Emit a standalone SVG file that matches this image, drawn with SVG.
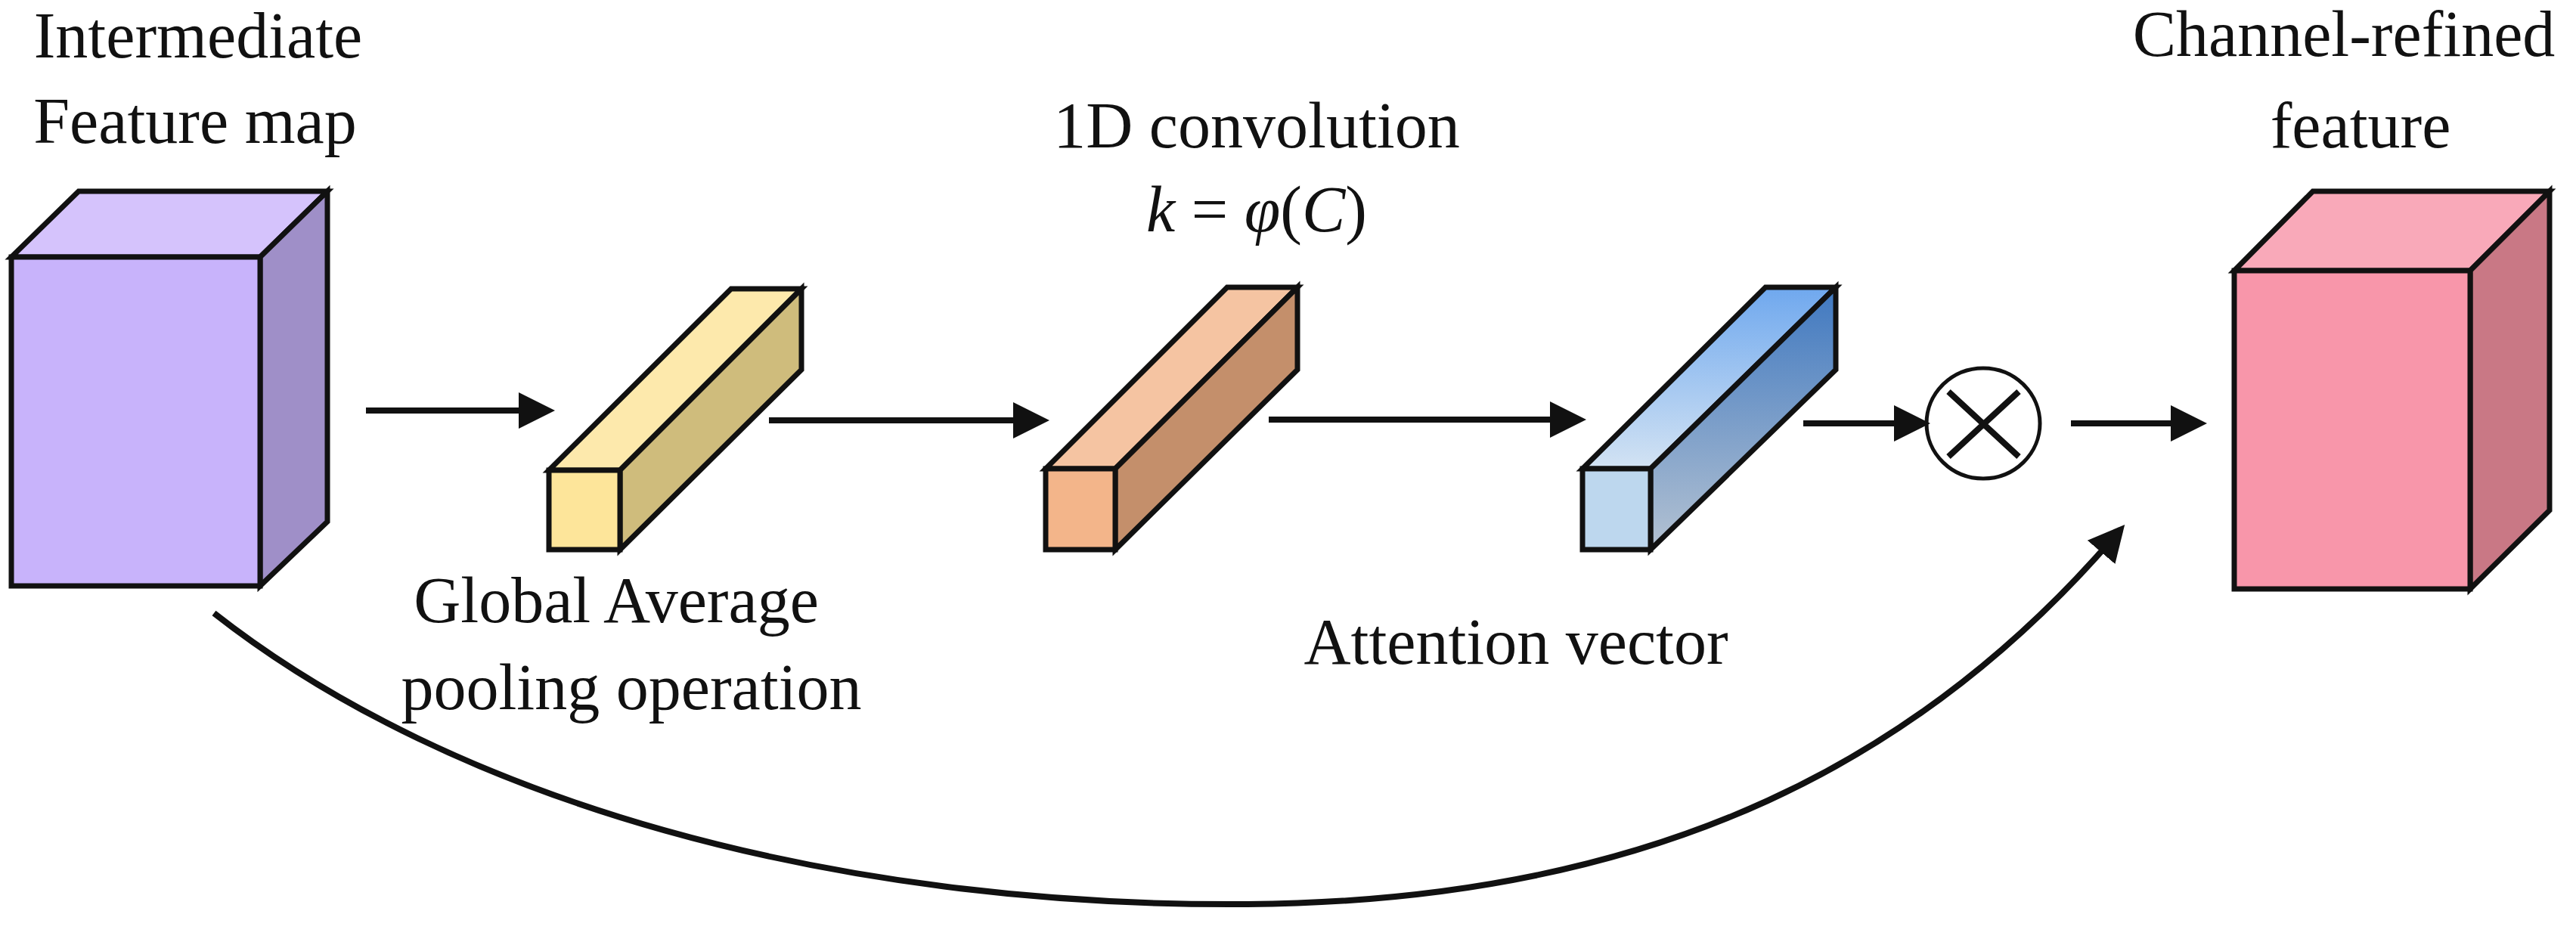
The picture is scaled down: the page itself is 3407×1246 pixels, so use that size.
<svg xmlns="http://www.w3.org/2000/svg" width="3407" height="1246" viewBox="0 0 3407 1246">
<style>
.t{font-family:"Liberation Serif","Times New Roman",serif;font-size:86px;fill:#111;text-anchor:middle}
.e{stroke:#111;stroke-width:7;stroke-linejoin:miter}
.c{stroke:#111;stroke-width:8;fill:none}
</style>
<defs>
<marker id="ah" markerWidth="6" markerHeight="6" refX="5" refY="3" orient="auto" markerUnits="strokeWidth"><path d="M0,0 L6,3 L0,6 Z" fill="#111"/></marker>
<linearGradient id="gt" x1="0" y1="0" x2="0" y2="1"><stop offset="0" stop-color="#6fa8ee"/><stop offset="1" stop-color="#d3e3f3"/></linearGradient>
<linearGradient id="gs" x1="0" y1="0" x2="0" y2="1"><stop offset="0" stop-color="#3f78c0"/><stop offset="1" stop-color="#b4c2d2"/></linearGradient>
</defs>
<g id="label-in"><text class="t" x="262" y="76">Intermediate</text><text class="t" x="258" y="189">Feature map</text></g>
<g id="cube-in">
<polygon class="e" fill="#d5c3fc" points="15,340 104,253 433,253 344,340"/>
<polygon class="e" fill="#9f8fc8" points="344,340 433,253 433,690 344,775"/>
<rect class="e" fill="#c8b3fb" x="15" y="340" width="329" height="435"/>
</g>
<g id="gap">
<polygon class="e" fill="#fde9ac" points="726,622 967,382 1060,382 820,622"/>
<polygon class="e" fill="#cfbc7c" points="820,622 1060,382 1060,489 820,727"/>
<rect class="e" fill="#fde59a" x="726" y="622" width="94" height="105"/>
<text class="t" x="815" y="823">Global Average</text><text class="t" x="835" y="938">pooling operation</text>
</g>
<g id="conv">
<text class="t" x="1662" y="195">1D convolution</text>
<text class="t" x="1662" y="306" font-family="'DejaVu Serif',serif" font-size="80"><tspan font-style="italic">k</tspan> = <tspan font-style="italic">φ</tspan>(<tspan font-style="italic">C</tspan>)</text>
<polygon class="e" fill="#f5c4a2" points="1383,620 1623,380 1716,380 1475,620"/>
<polygon class="e" fill="#c48f6b" points="1475,620 1716,380 1716,489 1475,727"/>
<rect class="e" fill="#f3b58a" x="1383" y="620" width="92" height="107"/>
</g>
<g id="att">
<polygon class="e" fill="url(#gt)" points="2093,620 2335,380 2428,380 2183,620"/>
<polygon class="e" fill="url(#gs)" points="2183,620 2428,380 2428,489 2183,727"/>
<rect class="e" fill="#bdd7ee" x="2093" y="620" width="90" height="107"/>
<text class="t" x="2005" y="878">Attention vector</text>
</g>
<g id="mul">
<ellipse cx="2623" cy="560" rx="75" ry="73" fill="#fff" stroke="#111" stroke-width="5"/>
<path d="M2577,518 L2670,604 M2670,518 L2577,604" stroke="#111" stroke-width="8"/>
</g>
<g id="cube-out">
<text class="t" x="3100" y="74">Channel-refined</text><text class="t" x="3122" y="195">feature</text>
<polygon class="e" fill="#f9a9b9" points="2955,358 3059,253 3372,253 3267,358"/>
<polygon class="e" fill="#c97885" points="3267,358 3372,253 3372,675 3267,779"/>
<rect class="e" fill="#f896aa" x="2955" y="358" width="312" height="421"/>
</g>
<g id="connectors">
<path class="c" d="M484,543 H726" marker-end="url(#ah)"/>
<path class="c" d="M1017,556 H1380" marker-end="url(#ah)"/>
<path class="c" d="M1678,555 H2090" marker-end="url(#ah)"/>
<path class="c" d="M2385,560 H2545" marker-end="url(#ah)"/>
<path class="c" d="M2739,560 H2911" marker-end="url(#ah)"/>
<path class="c" stroke-width="6" d="M283,811 C600,1060 1100,1200 1650,1196 C2200,1192 2550,1000 2805,700" marker-end="url(#ah)"/>
</g>
</svg>
